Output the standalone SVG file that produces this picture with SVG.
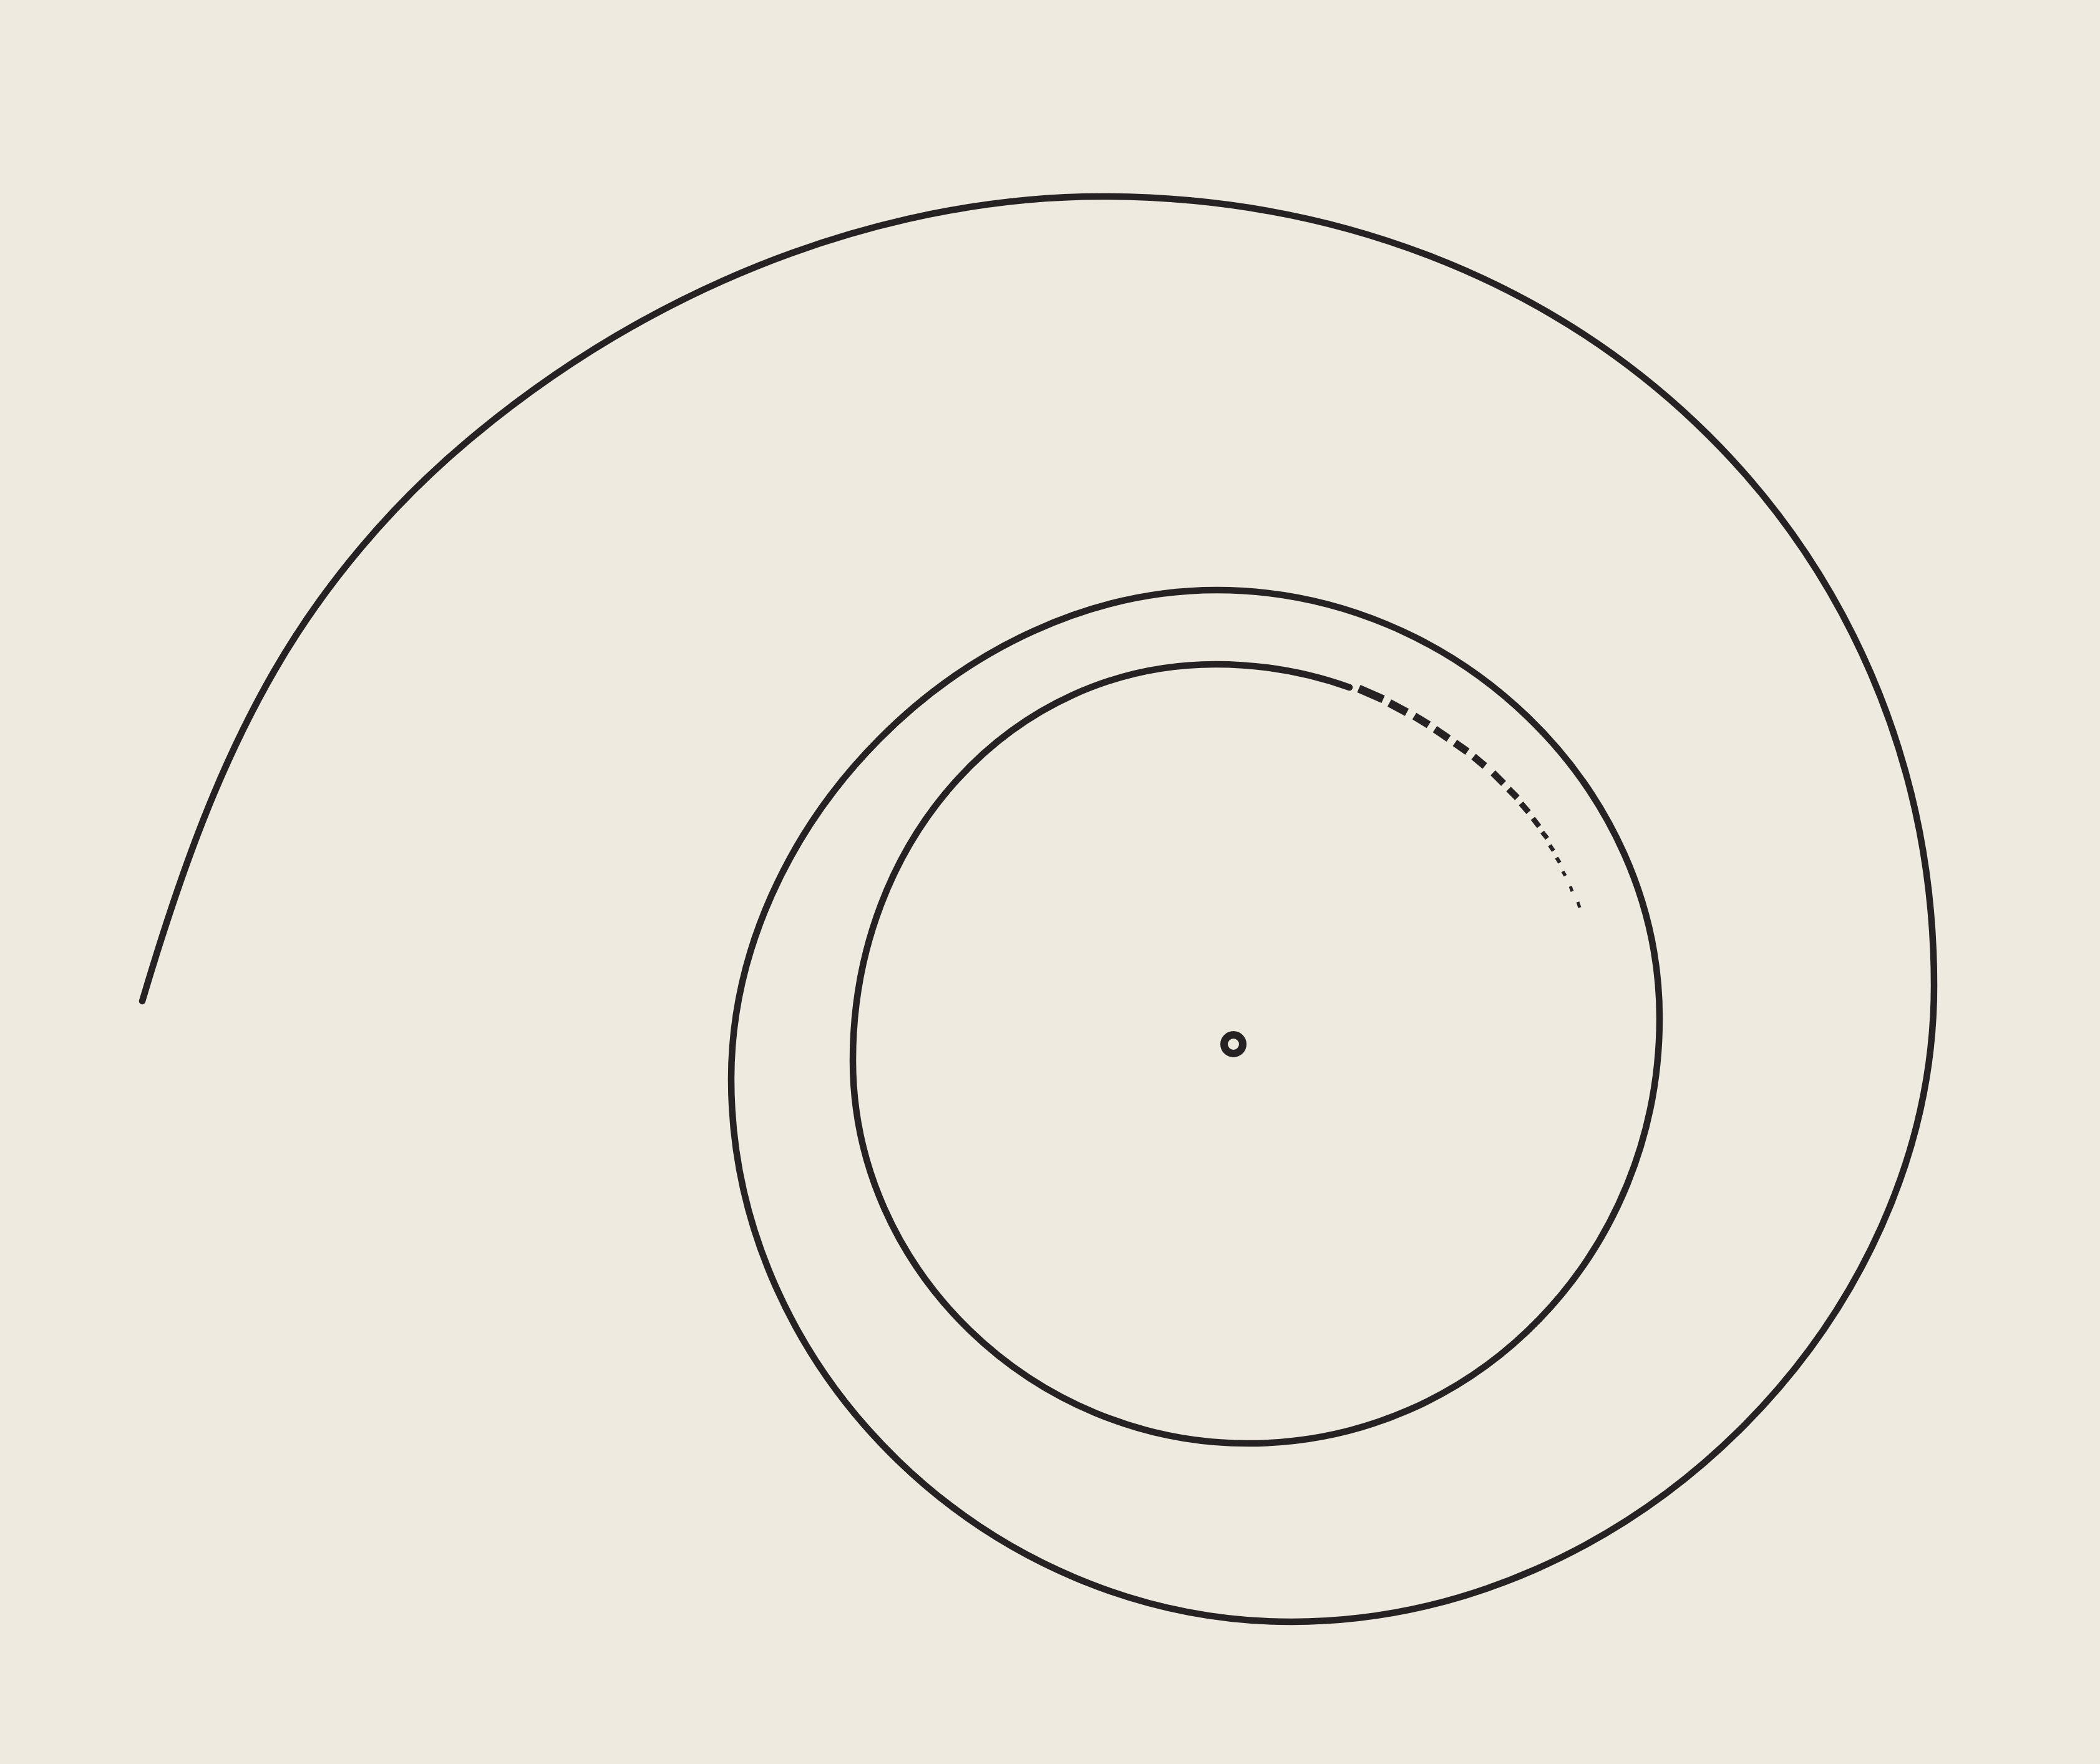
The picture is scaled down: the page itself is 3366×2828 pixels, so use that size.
<svg xmlns="http://www.w3.org/2000/svg" width="3366" height="2828" viewBox="0 0 3366 2828">
<style>
.ln{fill:none;stroke:#262223;stroke-linecap:round;stroke-linejoin:round}
.d{stroke:#262223;stroke-linecap:butt}
</style>
<rect x="0" y="0" width="3366" height="2828" fill="#efeadf"/>
<g id="spiral">
<path class="ln" stroke-width="10.5" d="M228,1605 C293.3,1384.4 355,1222.2 440,1075 C520.5,935.6 627.7,809.5 751,706 C874.3,602.5 1011.9,515.5 1159,450 C1348.1,365.8 1559,315 1766,315 C2525,315 3100,860.2 3100,1580 C3100,2118.6 2613.8,2600 2070,2600 C1585,2600 1172,2199.8 1172,1730 C1172,1322.3 1545.4,946 1950,946 C2334.1,946 2660,1260.9 2660,1632 C2660,2010.5 2366.3,2314 2000,2314 C1655,2314 1367,2034.6 1367,1700 C1367,1343.8 1622.1,1065 1948,1065 C2021,1065 2094.3,1077.4 2163,1102"/>
</g>
<g id="dashes">
<line class="d" x1="2178" y1="1104" x2="2217" y2="1121" stroke-width="13"/>
<line class="d" x1="2227" y1="1127" x2="2255" y2="1142" stroke-width="13"/>
<line class="d" x1="2267" y1="1148" x2="2290" y2="1162" stroke-width="12.5"/>
<line class="d" x1="2300" y1="1169" x2="2322" y2="1184" stroke-width="12"/>
<line class="d" x1="2332" y1="1191" x2="2352" y2="1205" stroke-width="12"/>
<line class="d" x1="2362" y1="1213" x2="2380" y2="1228" stroke-width="11.5"/>
<line class="d" x1="2393" y1="1239" x2="2410" y2="1256" stroke-width="11"/>
<line class="d" x1="2418" y1="1265" x2="2432" y2="1279" stroke-width="10.5"/>
<line class="d" x1="2438" y1="1288" x2="2450" y2="1302" stroke-width="9.5"/>
<line class="d" x1="2457" y1="1312" x2="2467" y2="1325" stroke-width="8.5"/>
<line class="d" x1="2472" y1="1334" x2="2480" y2="1344" stroke-width="7.5"/>
<line class="d" x1="2484" y1="1355" x2="2490" y2="1364" stroke-width="6.5"/>
<line class="d" x1="2495" y1="1375" x2="2500" y2="1383" stroke-width="6"/>
<line class="d" x1="2505" y1="1397" x2="2509" y2="1404" stroke-width="5.5"/>
<line class="d" x1="2517" y1="1421" x2="2520" y2="1429" stroke-width="5"/>
<line class="d" x1="2529" y1="1446" x2="2532" y2="1455" stroke-width="5"/>
</g>
<g id="centre">
<circle class="ln" cx="1977" cy="1674" r="15" stroke-width="12"/>
</g>
</svg>
